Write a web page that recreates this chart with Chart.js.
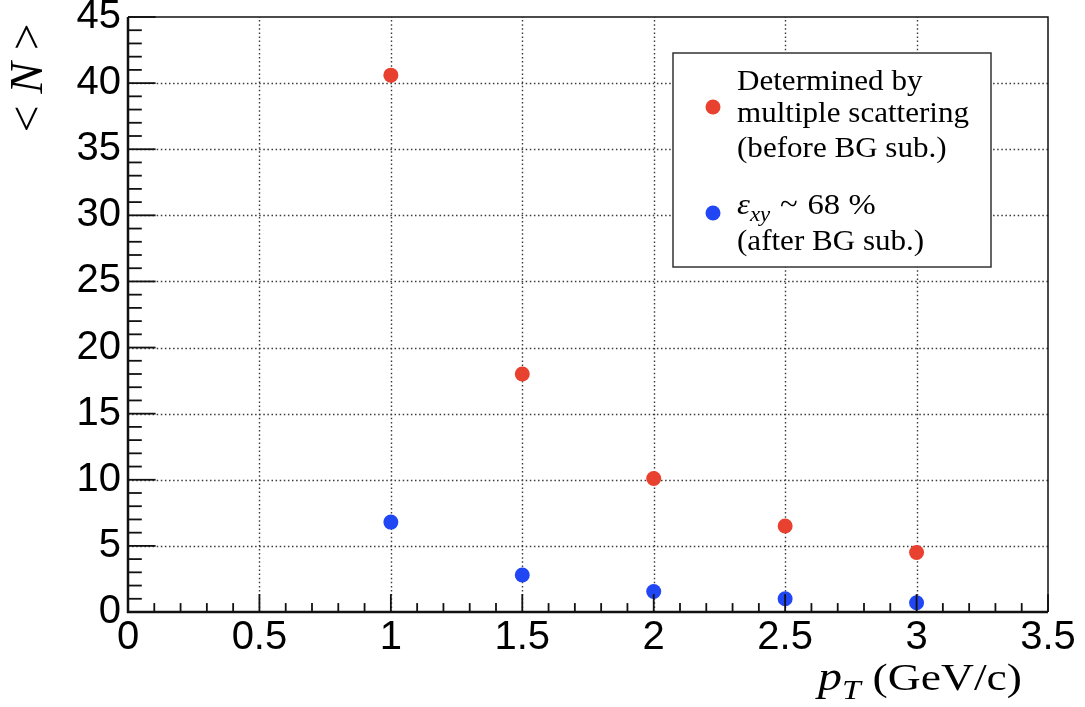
<!DOCTYPE html>
<html>
<head>
<meta charset="utf-8">
<script src="https://cdn.jsdelivr.net/npm/chart.js@4.4.1/dist/chart.umd.min.js"></script>
<style>
  html, body { margin: 0; padding: 0; background: #ffffff; }
  #wrap { width: 1085px; height: 707px; }
</style>
</head>
<body>
<div id="wrap"><canvas id="chart" width="1085" height="707"></canvas></div>
<script>
// pT bins (GeV/c)
const ptValues = [1, 1.5, 2, 2.5, 3];
// <N> determined by multiple scattering, before background subtraction
const scatteringValues = [40.6, 18.0, 10.1, 6.5, 4.5];
// <N> at eps_xy ~ 68 %, after background subtraction
const efficiencyValues = [6.8, 2.8, 1.55, 1.0, 0.7];
// axis tick labels
const xTickValues = [0, 0.5, 1, 1.5, 2, 2.5, 3, 3.5];
const yTickValues = [0, 5, 10, 15, 20, 25, 30, 35, 40, 45];
// legend text lines
const scatteringLabel = ["Determined by", "multiple scattering", "(before BG sub.)"];
const efficiencyLabel = ["68 %", "(after BG sub.)"];

const RED = "#e8412f";
const BLUE = "#2147f5";
const SANS = '"Liberation Sans", Arial, Helvetica, sans-serif';
const SERIF = '"Liberation Serif", "Times New Roman", serif';

function runsWidth(ctx, runs) {
  let w = 0;
  for (const r of runs) { ctx.font = r.font; w += ctx.measureText(r.text).width + (r.dx || 0); }
  return w;
}
function drawRuns(ctx, runs, x, y, align, stretch) {
  ctx.save();
  ctx.translate(x, y);
  ctx.scale(stretch || 1, 1);
  const w = runsWidth(ctx, runs);
  let cx = align === "right" ? -w : align === "center" ? -w / 2 : 0;
  ctx.textAlign = "left";
  ctx.textBaseline = "alphabetic";
  ctx.fillStyle = "#000";
  for (const r of runs) {
    ctx.font = r.font;
    cx += (r.dx || 0);
    ctx.fillText(r.text, cx, r.dy || 0);
    cx += ctx.measureText(r.text).width;
  }
  ctx.restore();
}

// ROOT-style frame: dotted grid, inward ticks, boxed axes, titles and legend
const framePlugin = {
  id: "frame",
  beforeDatasetsDraw(chart) {
    const { ctx, chartArea: a, scales: { x, y } } = chart;
    ctx.save();
    ctx.strokeStyle = "#3a3a3a";
    ctx.lineWidth = 1.4;
    ctx.setLineDash([1.5, 2.6]);
    for (const v of xTickValues) {
      if (v <= x.min || v >= x.max) continue;
      const px = Math.round(x.getPixelForValue(v)) + 0.5;
      ctx.beginPath(); ctx.moveTo(px, a.bottom); ctx.lineTo(px, a.top); ctx.stroke();
    }
    for (const v of yTickValues) {
      if (v <= y.min || v >= y.max) continue;
      const py = Math.round(y.getPixelForValue(v)) + 0.5;
      ctx.beginPath(); ctx.moveTo(a.left, py); ctx.lineTo(a.right, py); ctx.stroke();
    }
    ctx.restore();
  },
  afterDatasetsDraw(chart) {
    const { ctx, chartArea: a, scales: { x, y } } = chart;
    ctx.save();
    ctx.strokeStyle = "#111";
    ctx.setLineDash([]);
    ctx.lineWidth = 1.5;
    ctx.beginPath();
    ctx.moveTo(a.left, a.top); ctx.lineTo(a.right, a.top); ctx.lineTo(a.right, a.bottom);
    ctx.stroke();
    ctx.lineWidth = 1.8;
    const xSpan = a.right - a.left, ySpan = a.bottom - a.top;
    for (let i = 0; i <= 35; i++) {
      const px = x.getPixelForValue(i / 10);
      const len = (i % 5 === 0) ? 0.03 * ySpan : 0.015 * ySpan;
      ctx.beginPath(); ctx.moveTo(px, a.bottom); ctx.lineTo(px, a.bottom - len); ctx.stroke();
    }
    for (let i = 0; i <= 45; i++) {
      const py = y.getPixelForValue(i);
      const len = (i % 5 === 0) ? 0.03 * xSpan : 0.015 * xSpan;
      ctx.beginPath(); ctx.moveTo(a.left, py); ctx.lineTo(a.left + len, py); ctx.stroke();
    }
    ctx.lineWidth = 2.5;
    ctx.beginPath();
    ctx.moveTo(a.left, a.top); ctx.lineTo(a.left, a.bottom); ctx.lineTo(a.right, a.bottom);
    ctx.stroke();
    ctx.restore();
  },
  afterDraw(chart) {
    const { ctx } = chart;
    // x-axis title
    drawRuns(ctx, [
      { text: "p", font: "italic 40px " + SERIF },
      { text: "T", font: "italic 28px " + SERIF, dy: 9 },
      { text: "(GeV/c)", font: "38px " + SERIF, dx: 10 }
    ], 1022, 690, "right", 1.2);

    // y-axis title
    ctx.save();
    ctx.translate(42, 78);
    ctx.rotate(-Math.PI / 2);
    drawRuns(ctx, [
      { text: "< ", font: "46px " + SERIF },
      { text: "N", font: "italic 46px " + SERIF },
      { text: " >", font: "46px " + SERIF }
    ], 0, 0, "center", 1.03);
    ctx.restore();

    // legend box
    const bx = 673, by = 53, bw = 318, bh = 214;
    ctx.save();
    ctx.fillStyle = "#fff";
    ctx.fillRect(bx, by, bw, bh);
    ctx.strokeStyle = "#333";
    ctx.lineWidth = 1.5;
    ctx.strokeRect(bx, by, bw, bh);
    const ds = chart.data.datasets;
    ctx.fillStyle = ds[0].backgroundColor;
    ctx.beginPath(); ctx.arc(713, 107, 7.5, 0, Math.PI * 2); ctx.fill();
    ctx.fillStyle = ds[1].backgroundColor;
    ctx.beginPath(); ctx.arc(713, 213, 7.5, 0, Math.PI * 2); ctx.fill();
    ctx.restore();

    const f = "28.5px " + SERIF;
    const s = 1.09;
    drawRuns(ctx, [{ text: scatteringLabel[0], font: f }], 737, 90, "left", s);
    drawRuns(ctx, [{ text: scatteringLabel[1], font: f }], 737, 122, "left", s);
    drawRuns(ctx, [{ text: scatteringLabel[2], font: f }], 737, 157, "left", s);
    drawRuns(ctx, [
      { text: "\u03B5", font: "italic 30px " + SERIF },
      { text: "xy", font: "italic 21px " + SERIF, dy: 7 },
      { text: "~", font: "30px " + SERIF, dx: 9 },
      { text: efficiencyLabel[0], font: "30px " + SERIF, dx: 9 }
    ], 737, 214, "left", s);
    drawRuns(ctx, [{ text: efficiencyLabel[1], font: f }], 737, 250, "left", s);
  }
};

new Chart(document.getElementById("chart"), {
  type: "scatter",
  data: {
    datasets: [
      {
        label: scatteringLabel.join(" "),
        data: ptValues.map((p, i) => ({ x: p, y: scatteringValues[i] })),
        backgroundColor: RED,
        borderWidth: 0,
        pointRadius: 7.5,
        pointHoverRadius: 7.5
      },
      {
        label: efficiencyLabel.join(" "),
        data: ptValues.map((p, i) => ({ x: p, y: efficiencyValues[i] })),
        backgroundColor: BLUE,
        borderWidth: 0,
        pointRadius: 7.5,
        pointHoverRadius: 7.5
      }
    ]
  },
  options: {
    responsive: false,
    animation: false,
    devicePixelRatio: 1,
    layout: { padding: { left: 0, top: 17, right: 37, bottom: 0 } },
    plugins: { legend: { display: false }, tooltip: { enabled: false } },
    scales: {
      x: {
        type: "linear",
        min: 0,
        max: 3.5,
        afterBuildTicks: s => { s.ticks = xTickValues.map(v => ({ value: v })); },
        afterFit: s => { s.height = 95; s.paddingLeft = 0; s.paddingRight = 0; },
        grid: { display: false, drawTicks: false },
        border: { display: false },
        ticks: {
          color: "#000",
          padding: 2,
          maxRotation: 0,
          autoSkip: false,
          font: { family: SANS, size: 40 },
          callback: v => String(v)
        }
      },
      y: {
        type: "linear",
        min: 0,
        max: 45,
        afterBuildTicks: s => { s.ticks = yTickValues.map(v => ({ value: v })); },
        afterFit: s => { s.width = 128; s.paddingTop = 0; s.paddingBottom = 0; },
        grid: { display: false, drawTicks: false },
        border: { display: false },
        ticks: {
          color: "#000",
          padding: 7,
          autoSkip: false,
          font: { family: SANS, size: 40 },
          callback: v => String(v)
        }
      }
    }
  },
  plugins: [framePlugin]
});
</script>
</body>
</html>
